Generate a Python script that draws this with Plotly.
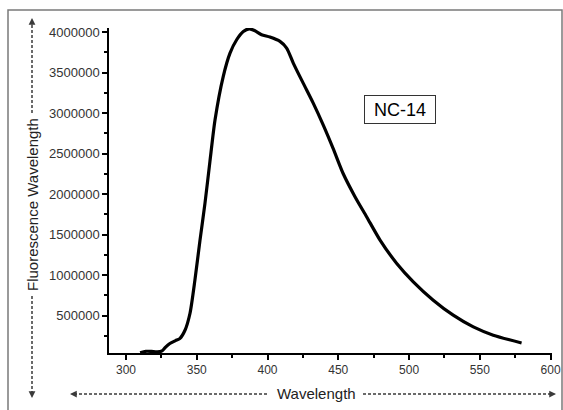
import plotly.graph_objects as go

wavelength = [310, 314, 318, 322, 325.5, 328, 331, 335, 338, 341.7, 345.2, 348.7,
              352.3, 355.8, 359.3, 362.9, 368.7, 373.5, 378.2, 382.9, 387.1, 391.1,
              395.8, 401.7, 408.8, 413.5, 418.2, 425.2, 432.3, 439.4, 446.4, 453.5,
              461.8, 470, 479.5, 491.3, 503, 517.1, 531.2, 545.4, 559.5, 579.5]
intensity = [40000, 58000, 56000, 50000, 62000, 110000, 154000, 190000, 215000,
             318000, 525000, 937000, 1431000, 1885000, 2400000, 2915000, 3451000,
             3740000, 3905000, 4007000, 4040000, 4016000, 3967000, 3938000, 3884000,
             3802000, 3617000, 3369000, 3122000, 2850000, 2560000, 2250000, 1967000,
             1720000, 1431000, 1143000, 916000, 689000, 504000, 359000, 257000, 161000]

x_title = "Wavelength"
y_title = "Fluorescence Wavelength"
label = "NC-14"

W, H = 563, 410
L, R, T, B = 109, 11, 28, 57
pw, ph = W - L - R, H - T - B


def px(x):
    return (x - L) / pw


def py(y):
    return (H - B - y) / ph


FONT = "Liberation Sans, Arial, sans-serif"
DASH_COL = "#3a3a3a"

fig = go.Figure()
fig.add_trace(go.Scatter(x=wavelength, y=intensity, mode="lines",
                         line=dict(color="black", width=3.2, shape="spline", smoothing=0.7),
                         hoverinfo="skip", showlegend=False))

shapes = []
# outer border
shapes.append(dict(type="rect", xref="paper", yref="paper",
                   x0=px(8), x1=px(562), y0=py(413), y1=py(10),
                   line=dict(color="#7a7a7a", width=1.5), fillcolor="rgba(0,0,0,0)", layer="below"))
# dashed lines for y title
shapes.append(dict(type="line", xref="paper", yref="paper", x0=px(32), x1=px(32),
                   y0=py(113), y1=py(22), line=dict(color=DASH_COL, width=1.5, dash="3px,2px")))
shapes.append(dict(type="line", xref="paper", yref="paper", x0=px(32), x1=px(32),
                   y0=py(296), y1=py(393), line=dict(color=DASH_COL, width=1.5, dash="3px,2px")))
# dashed lines for x title
shapes.append(dict(type="line", xref="paper", yref="paper", x0=px(74), x1=px(268),
                   y0=py(394), y1=py(394), line=dict(color=DASH_COL, width=1.5, dash="3px,2px")))
shapes.append(dict(type="line", xref="paper", yref="paper", x0=px(363), x1=px(552),
                   y0=py(394), y1=py(394), line=dict(color=DASH_COL, width=1.5, dash="3px,2px")))

annotations = []
arrow_common = dict(xref="paper", yref="paper", text="", showarrow=True, arrowhead=2,
                    arrowsize=0.9, arrowwidth=1.5, arrowcolor=DASH_COL)
annotations.append(dict(x=px(32), y=py(18), ax=0, ay=8, **arrow_common))
annotations.append(dict(x=px(32), y=py(398), ax=0, ay=-8, **arrow_common))
annotations.append(dict(x=px(70), y=py(394), ax=8, ay=0, **arrow_common))
annotations.append(dict(x=px(556), y=py(394), ax=-8, ay=0, **arrow_common))

annotations.append(dict(xref="paper", yref="paper", x=px(316), y=py(394), text=x_title,
                        xanchor="center", yanchor="middle",
                        showarrow=False, font=dict(family=FONT, size=15, color="#222")))
annotations.append(dict(xref="paper", yref="paper", x=px(32), y=py(205), text=y_title,
                        xanchor="center", yanchor="middle",
                        textangle=-90, showarrow=False,
                        font=dict(family=FONT, size=15, color="#222")))
annotations.append(dict(xref="paper", yref="paper", x=px(400), y=py(109.5), text=label,
                        xanchor="center", yanchor="middle",
                        showarrow=False, bordercolor="#333", borderwidth=1, borderpad=2,
                        width=66, height=23,
                        bgcolor="white", font=dict(family=FONT, size=18, color="black")))

axis_common = dict(showgrid=False, zeroline=False, showline=True, linecolor="black",
                   linewidth=1.5, ticks="outside", ticklen=5, tickwidth=1.5,
                   tickcolor="black", automargin=False)

fig.update_layout(
    width=W, height=H,
    margin=dict(l=L, r=R, t=T, b=B),
    paper_bgcolor="white", plot_bgcolor="white",
    xaxis=dict(range=[288, 601], dtick=50, tick0=300,
               tickfont=dict(family=FONT, size=12, color="#333"),
               minor=dict(dtick=25, ticks="outside", ticklen=3, tickwidth=1.5, tickcolor="black"),
               **axis_common),
    yaxis=dict(range=[37000, 4050000], dtick=500000, tick0=0, tickformat="d",
               tickfont=dict(family=FONT, size=13, color="#333"),
               minor=dict(dtick=250000, ticks="outside", ticklen=3, tickwidth=1.5, tickcolor="black"),
               **axis_common),
    shapes=shapes, annotations=annotations,
)

fig.write_html("out.html")
